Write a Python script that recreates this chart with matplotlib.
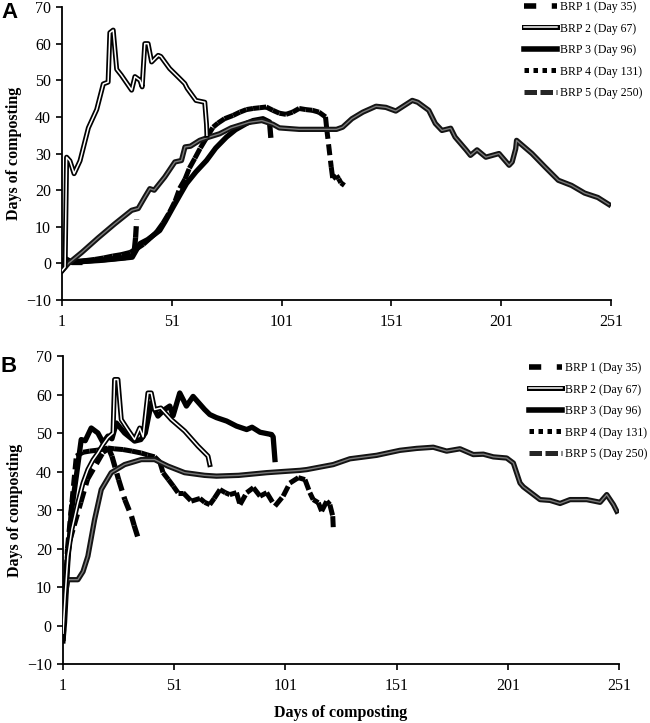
"""
Recreate the two-panel BRP composting chart (panels A and B).

Output: out.png
"""

import numpy as np
import matplotlib
matplotlib.use("Agg")
import matplotlib.pyplot as plt
import matplotlib.patheffects as pe
from matplotlib.collections import LineCollection
from matplotlib.lines import Line2D

# ---------------------------------------------------------------- data
labels = ["BRP 1 (Day 35)", "BRP 2 (Day 67)", "BRP 3 (Day 96)",
          "BRP 4 (Day 131)", "BRP 5 (Day 250)"]
x_ticks = [1, 51, 101, 151, 201, 251]
y_ticks = [-10, 0, 10, 20, 30, 40, 50, 60, 70]

# Panel A
a_brp1_days = [1, 2, 5, 10, 15, 20, 25, 30, 33, 34, 34.5, 35]
a_brp1 = [-1, 1.5, 0.5, 0.5, 0.8, 1.0, 1.3, 1.6, 2.0, 4.0, 7.0, 12.0]

a_brp2_days = [1, 2.4, 3.1, 4.6, 6.5, 9.2, 13, 16.8, 19.8, 22, 22.8, 24.3, 25.9,
               28, 32.7, 34.2, 36.5, 37.5, 38.7, 40.2, 41.8, 44.8, 46, 50, 53.9,
               56.9, 58, 62, 66, 66.8, 67]
a_brp2 = [-2, -1, 29, 28, 24.5, 28, 37, 42, 49, 49.5, 63, 63.7, 53,
          51.4, 47.3, 51, 50, 48.2, 60, 60, 55, 56.8, 56.5, 53.2, 50.9,
          49.1, 47.8, 44.5, 44, 38, 35]

a_brp3_days = [1, 5, 10, 18, 25, 33, 36.5, 40, 45.5, 48, 51.6, 55, 57.7, 62,
               66.8, 71, 75.9, 80, 85, 88, 92.5, 95.5, 96]
a_brp3 = [0, 0.3, 0.5, 0.8, 1.2, 1.7, 5.4, 6.5, 9, 11.5, 15.4, 19, 21.8, 25,
          28.1, 31.5, 34.5, 36.5, 38.2, 39, 39.5, 38.6, 35]

a_brp4_days = [1, 4, 8, 12, 16, 20, 24, 28, 32, 35, 38, 41, 44, 47, 50, 52.5,
               54.6, 57, 59, 61.5, 64, 67, 69.8, 72, 75, 78.9, 82, 85, 88, 91,
               94, 97, 100, 103, 106, 109, 112, 115, 118, 121, 121.5, 123.6,
               124.3, 126, 127, 128, 129.6]
a_brp4 = [0, 0.4, 0.6, 0.8, 1.1, 1.5, 2.0, 2.4, 3.0, 4.0, 5.2, 6.8, 8.5, 11,
          14, 17, 20.5, 23, 26, 28.7, 31.5, 34.5, 37.2, 38.3, 39.5, 40.4, 41.3,
          42, 42.3, 42.5, 42.7, 41.8, 41, 40.7, 41.3, 42.3, 42, 41.8, 41.3, 40,
          37, 26.3, 23.1, 24, 23.1, 22, 21.3]

a_brp5_days = [1, 3.9, 10, 17.5, 25, 32.7, 35.7, 38.7, 41, 43, 47.8, 52.4, 55.4,
               57, 59.5, 63.7, 68, 72.8, 78, 86, 92, 97, 100, 109, 126, 128.8,
               133, 138, 144, 148.5, 153, 160.5, 163, 168, 171, 174, 178, 180,
               185, 187, 190, 194, 197, 200, 204.6, 206, 207.6, 208, 215, 221,
               227, 233, 239, 245, 250]
a_brp5 = [-2, 0, 3, 7, 10.8, 14.5, 15, 18.1, 20.4, 20, 23.6, 27.7, 28.1,
          31.8, 32, 33.6, 34.5, 35.4, 37, 38.5, 39, 38, 37, 36.6, 36.6, 37.2,
          39.5, 41.3, 42.9, 42.6, 41.6, 44.5, 44, 41.8, 38.2, 36.3, 36.9, 34.5,
          31, 29.5, 31, 29, 29.5, 30, 26.8, 27.7, 31.3, 33.6, 30, 26.3,
          22.7, 21.3, 19.2, 18, 16.1]

# Panel B
b_brp1_days = [1, 2, 3, 4, 6, 9, 12, 16, 19, 21.5, 23, 26, 28.8, 31.8, 33, 35]
b_brp1 = [-4, 8, 18, 22, 26, 32, 38, 42, 45, 46, 44, 37.9, 32.7, 28.4, 26, 22.3]

b_brp2_days = [1, 2, 3.2, 5, 7.7, 10, 12.2, 14.5, 16.7, 19, 21.2, 23.5, 24.2,
               25.7, 27.2, 30, 33.2, 35.5, 37, 39.2, 40.7, 42.2, 45, 49.7, 55.7,
               61.7, 66.2, 67]
b_brp2 = [-2, 8, 18, 25, 31.9, 37, 40.5, 43, 44.8, 47, 48.8, 50, 63.9,
          63.9, 53.5, 51, 48.3, 51.3, 49, 60.4, 60.4, 56.1, 56.5, 53.5, 50.5,
          46.6, 44, 41.8]

b_brp3_days = [1, 1.7, 3, 4.7, 7, 9.2, 11, 13.7, 16.7, 19, 21.2, 23, 25, 28.7,
               33.2, 36, 38, 40.7, 43.7, 46.7, 49, 50.5, 53.5, 56.5, 59.5, 64.7,
               67, 70, 74.6, 79, 83.6, 86, 89.6, 94.8, 95.5, 96.3]
b_brp3 = [-4, 0.8, 15, 29.3, 38.8, 48.3, 48, 51.3, 50, 47.5, 49.2, 48.5, 52.6,
          50, 47.9, 48.3, 50, 57.8, 54.4, 56.1, 57, 54.5, 60.4, 57, 59.5, 56.1,
          54.8, 54, 53.1, 51.8, 50.9, 51.5, 50.2, 49.6, 49, 43.1]

b_brp4_days = [1, 2, 3, 5, 7, 10, 13, 16, 19, 21.2, 24, 28, 32, 36.2, 39,
               42.2, 44.5, 46, 48.4, 50.6, 52.7, 55, 58.7, 62.6, 64.7, 67, 69,
               71.6, 74, 76, 79, 80.6, 83.6, 86.6, 89.6, 92.6, 96.3, 100, 103,
               106.8, 109.8, 112, 113.5, 115.8, 117.3, 119.6, 121, 122.3, 122.6]
b_brp4 = [0, 10, 20, 32, 44, 45, 45.3, 45.5, 45.8, 46.1, 45.9, 45.7, 45.3,
          44.8, 44.3, 43.8, 42.5, 39.7, 37.9, 36.2, 34.5, 34.5, 32.3, 33, 32,
          31.4, 33, 35.3, 34.5, 34, 34.5, 31.4, 34.5, 35.8, 33.6, 34.5, 31,
          33.6, 37, 38.4, 37.9, 34.5, 32.7, 31.9, 29.7, 32.3, 31.4, 28.4, 24.5]

b_brp5_days = [1, 2, 3.2, 7.7, 10, 12.2, 15.2, 18.2, 22.7, 28.7, 36.2, 42.2,
               48.2, 55.7, 64.7, 70, 80, 92.6, 100, 107.6, 110.6, 122.5, 130,
               142, 152.5, 160, 167.5, 173.5, 179.5, 185.5, 190, 194.5, 200.5,
               203.5, 206.5, 208, 215.5, 220, 224.5, 229, 236.5, 242.5, 245.5,
               248.5, 250]
b_brp5 = [0, 8, 11.9, 11.9, 14, 18, 27.5, 35.3, 39.7, 41.8, 43.1, 43.1,
          41.4, 39.7, 39, 38.8, 39, 39.7, 40, 40.3, 40.5, 41.8, 43.3,
          44.2, 45.5, 46, 46.3, 45.3, 45.9, 44.4, 44.5, 43.8, 43.5,
          42.2, 37, 36, 32.7, 32.5, 31.7, 32.7, 32.7, 32, 34,
          31.4, 29.7]

plt.rcParams["font.family"] = ["Liberation Serif", "DejaVu Serif"]


def dashed_segments(ax, x, y, lw, dash, color="black", z=2):
    # every segment restarts its own dash pattern (short steps look solid)
    pts = np.column_stack([x, y])
    segs = np.stack([pts[:-1], pts[1:]], axis=1)
    lc = LineCollection(segs, colors=color, linewidths=lw,
                        linestyles=[(0, dash)], capstyle="butt", zorder=z)
    ax.add_collection(lc)


def double_line(ax, x, y, outer, inner, lw_out, lw_in, z=3):
    ax.plot(x, y, color=inner, lw=lw_in, zorder=z, solid_joinstyle="round",
            path_effects=[pe.Stroke(linewidth=lw_out, foreground=outer),
                          pe.Normal()])


def draw_panel(ax, s1, s2, s3, s4, s5, legend_anchor):
    dashed_segments(ax, s1[0], s1[1], 3.8, (2.2, 1.2), z=2)
    ax.plot(s3[0], s3[1], color="black", lw=3.8, zorder=2,
            solid_joinstyle="round")
    dashed_segments(ax, s4[0], s4[1], 3.6, (2.2, 1.1), z=2)
    double_line(ax, s5[0], s5[1], "#141414", "#7a7a7a", 3.8, 1.0, z=3)
    double_line(ax, s2[0], s2[1], "black", "white", 3.6, 1.1, z=4)

    ax.set_xlim(1, 251)
    ax.set_ylim(-10, 70)
    ax.set_xticks(x_ticks)
    ax.set_yticks(y_ticks)
    ax.tick_params(labelsize=11.5, length=4, width=1.2, pad=4)
    ax.tick_params(axis="x", pad=6)
    for side in ("top", "right"):
        ax.spines[side].set_visible(False)
    for side in ("left", "bottom"):
        ax.spines[side].set_linewidth(1.3)
    ax.set_ylabel("Days of composting", fontsize=11.5, fontweight="bold")
    ax.yaxis.set_label_coords(-0.072, 0.5)

    handles = [
        Line2D([], [], color="black", lw=4, linestyle=(0, (2.2, 2.8))),
        (Line2D([], [], color="black", lw=3.6),
         Line2D([], [], color="white", lw=1.1)),
        Line2D([], [], color="black", lw=4),
        Line2D([], [], color="black", lw=3.6, linestyle=(0, (0.9, 0.9))),
        Line2D([], [], color="#262626", lw=3.6, linestyle=(0, (2.5, 0.7))),
    ]
    ax.legend(handles, labels, loc="upper left",
              bbox_to_anchor=legend_anchor, bbox_transform=ax.figure.transFigure,
              frameon=False, fontsize=8.5, handlelength=2.8,
              handletextpad=0.2, labelspacing=0.8, borderpad=0.1,
              borderaxespad=0)


fig = plt.figure(figsize=(6.5, 7.23), dpi=100)
ax_a = fig.add_axes([0.0954, 0.585, 0.8446, 0.4053])
ax_b = fig.add_axes([0.0969, 0.0816, 0.8554, 0.426])

draw_panel(ax_a, (a_brp1_days, a_brp1), (a_brp2_days, a_brp2),
           (a_brp3_days, a_brp3), (a_brp4_days, a_brp4),
           (a_brp5_days, a_brp5), (523 / 650, 1.0))
draw_panel(ax_b, (b_brp1_days, b_brp1), (b_brp2_days, b_brp2),
           (b_brp3_days, b_brp3), (b_brp4_days, b_brp4),
           (b_brp5_days, b_brp5), (528 / 650, 1 - 361 / 723))

ax_b.set_xlabel("Days of composting", fontsize=11.5, fontweight="bold",
                labelpad=8)

fig.text(0.002, 0.997, "A", fontsize=16, fontweight="bold",
         family="Liberation Sans", va="top", ha="left")
fig.text(0.0, 0.508, "B", fontsize=16, fontweight="bold",
         family="Liberation Sans", va="top", ha="left")

fig.savefig("out.png", dpi=100)
plt.close(fig)
